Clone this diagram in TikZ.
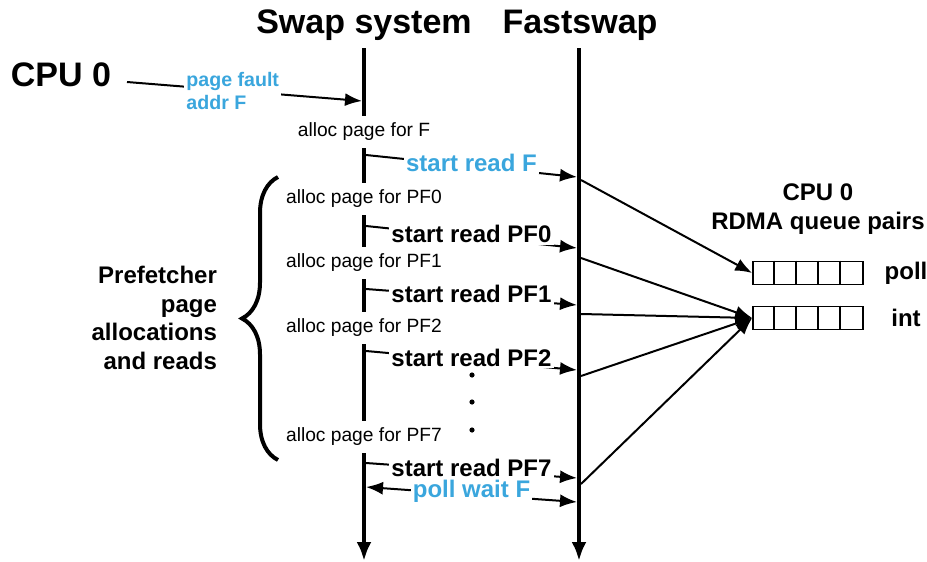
\documentclass[tikz,border=0pt]{standalone}
\usepackage{fontspec}
\setmainfont{Liberation Sans}
\usetikzlibrary{arrows.meta,decorations.pathreplacing}
\definecolor{fsblue}{RGB}{58,166,221}

\tikzset{
  title/.style={font=\bfseries\fontsize{17}{20}\selectfont},
  bold/.style={font=\bfseries\fontsize{12}{14.3}\selectfont},
  alloc/.style={fill=white, font=\fontsize{9.6}{11}\selectfont},
  rd/.style={fill=white, inner sep=1pt, yshift=1.5pt, font=\bfseries\fontsize{12}{14}\selectfont},
  fault/.style={fill=white, inner sep=1pt, align=left, font=\bfseries\fontsize{9.8}{11.5}\selectfont, text=fsblue},
  msg/.style={line width=1pt, -{Latex[length=8.5pt,width=6.5pt]}},
  life/.style={line width=2.2pt, -{Latex[length=9.5pt,width=7.5pt]}},
  queue/.style={draw, line width=0.8pt, minimum width=55pt, minimum height=11.5pt, inner sep=0pt}
}

\begin{document}
\begin{tikzpicture}[x=0.5pt,y=-0.5pt]
    \useasboundingbox (0,0) rectangle (927,562);

    % Lifelines
    \node[title] (swap) at (364,25) {Swap system};
    \node[title] (fast) at (580,25) {Fastswap};
    \coordinate (swtop) at (364,48);
    \coordinate (swbot) at (364,561);
    \coordinate (fstop) at (579,48);
    \coordinate (fsbot) at (579,561);
    \draw[life] (swtop) -- (swbot);
    \draw[life] (fstop) -- (fsbot);

    % Page fault
    \node[title] (cpu) at (61,75) {CPU 0};
    \coordinate (cpuout) at (127,82);
    \coordinate (pfin) at (362,101);
    \draw[msg] (cpuout) -- node[fault, pos=0.45] (pf) {page fault\\addr F} (pfin);

    \node[alloc] (aF) at (364,132) {alloc page for F};
    \coordinate (sF) at (366,155);
    \coordinate (fF) at (577,177);
    \draw[msg] (sF) -- node[rd, text=fsblue] (rF) {start read F} (fF);

    % Prefetches
    \foreach \n/\ya/\ys/\ye in {0/199/226/248, 1/263/289/305, 2/328/351/370, 7/437/463/478} {
      \node[alloc] (a\n) at (364,\ya) {alloc page for PF\n};
      \coordinate (s\n) at (366,\ys);
      \coordinate (f\n) at (577,\ye);
      \draw[msg] (s\n) -- node[rd] (r\n) {start read PF\n} (f\n);
    }
    \foreach \y in {375,402,430}
      \fill (472,\y) circle (1.3pt);

    \coordinate (brbot) at (278,460);
    \coordinate (brtop) at (278,177);
    \draw[line width=2pt, decorate, decoration={brace, amplitude=18pt}] (brbot) -- (brtop);
    \node[bold, align=right, anchor=east] (pre) at (224,318) {Prefetcher\\page\\allocations\\and reads};

    % Poll wait
    \coordinate (pws) at (366,487);
    \coordinate (pwf) at (577,502);
    \draw[msg, {Latex[length=8.5pt,width=6.5pt]}-{Latex[length=8.5pt,width=6.5pt]}] (pws) -- node[rd, text=fsblue] (pw) {poll wait F} (pwf);

    % Queue pairs
    \node[bold, align=center] (qp) at (818,209) {CPU 0\\RDMA queue pairs};
    \foreach \q/\y/\t in {pollq/273/poll, intq/318/int} {
      \node[queue] (\q) at (808,\y) {};
      \foreach \i in {1,...,4}
        \draw[line width=0.8pt] (\q.north west) ++(22*\i,0) -- ++(0,23);
      \node[bold] (\q l) at (906,\y) {\t};
    }

    % Completions
    \coordinate (cF) at (581,180);
    \draw[msg] (cF) -- (pollq.west);
    \foreach \n/\y in {0/258, 1/314, 2/376, 7/484} {
      \coordinate (c\n) at (581,\y);
      \draw[msg] (c\n) -- (intq.west);
    }

\end{tikzpicture}
\end{document}
